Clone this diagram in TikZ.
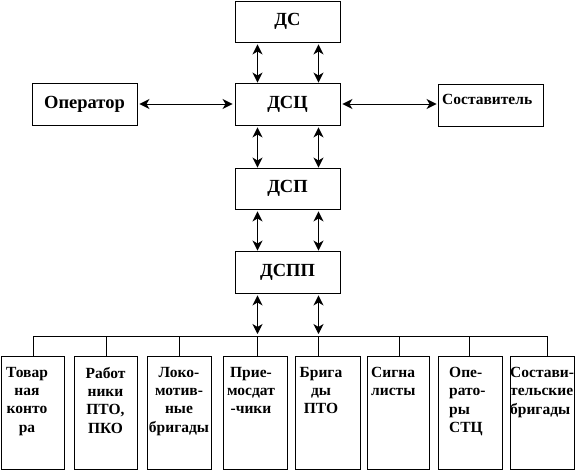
\documentclass[tikz,border=0pt]{standalone}
\usepackage{fontspec}
\setmainfont{Liberation Serif}[BoldFont={Liberation Serif Bold}]
\usetikzlibrary{arrows.meta}
\begin{document}
\begin{tikzpicture}[x=1pt,y=-1pt,
  box/.style={draw, line width=0.9pt, inner sep=0pt, minimum width=105pt, minimum height=42pt, font=\fontsize{18.5}{20}\selectfont\bfseries},
  sbox/.style={draw, line width=0.9pt, inner sep=0pt, minimum height=113pt, anchor=north west},
  stext/.style={inner sep=0pt, font=\fontsize{15.5}{18.3}\selectfont\bfseries},
  arr/.style={{Stealth[length=10pt,width=10pt,inset=3pt]}-{Stealth[length=10pt,width=10pt,inset=3pt]}, line width=1pt},
  thin/.style={line width=0.9pt}]
\useasboundingbox (0,0) rectangle (582,472);
% main column
\node[box, minimum height=41pt] (ds) at (287.5,21.5) {ДС};
\node[box] (dsc) at (287.5,104) {ДСЦ};
\node[box] (op) at (84.5,104.5) {Оператор};
\node[box] (sost) at (490.5,105) {};
\node[stext, anchor=west] (sostt) at (442,99) {Составитель};
\node[box, minimum height=41pt] (dsp) at (287.5,188.5) {ДСП};
\node[box] (dspp) at (287.5,272) {ДСПП};
% arrows
\draw[arr, shorten <=2pt] ([xshift=-30pt]ds.south) -- ([xshift=-30pt]dsc.north);
\draw[arr, shorten <=2pt] ([xshift=31pt]ds.south) -- ([xshift=31pt]dsc.north);
\draw[arr, shorten <=2pt] ([xshift=-30pt]dsc.south) -- ([xshift=-30pt]dsp.north);
\draw[arr, shorten <=2pt] ([xshift=31pt]dsc.south) -- ([xshift=31pt]dsp.north);
\draw[arr, shorten <=2pt] ([xshift=-30pt]dsp.south) -- ([xshift=-30pt]dspp.north);
\draw[arr, shorten <=2pt] ([xshift=31pt]dsp.south) -- ([xshift=31pt]dspp.north);
\draw[arr, shorten <=2pt, shorten >=2pt] (dsc.west -| op.east) -- (dsc.west);
\draw[arr, shorten <=2pt, shorten >=1pt] (dsc.east) -- (dsc.east -| sost.west);
% bottom boxes
\node[sbox, minimum width=63.5pt] (b1) at (0.5,356) {};
\node[sbox, minimum width=63pt] (b2) at (74,356) {};
\node[sbox, minimum width=64pt] (b3) at (147,356) {};
\node[sbox, minimum width=64pt] (b4) at (223,356) {};
\node[sbox, minimum width=65pt] (b5) at (295,356) {};
\node[sbox, minimum width=62pt] (b6) at (367,356) {};
\node[sbox, minimum width=64pt] (b7) at (438,356) {};
\node[sbox, minimum width=64pt] (b8) at (510,356) {};
\node[stext, anchor=north, align=center] (t1) at (27,367) {Товар\\ная\\конто\\ра};
\node[stext, anchor=north, align=center] (t2) at (105.5,367) {Работ\\ники\\ПТО,\\ПКО};
\node[stext, anchor=north, align=center] (t3) at (179,367) {Локо-\\мотив-\\ные\\бригады};
\node[stext, anchor=north, align=center] (t4) at (251,367) {Прие-\\мосдат\\-чики};
\node[stext, anchor=north, align=center] (t5) at (321,367) {Брига\\ды\\ПТО};
\node[stext, anchor=north west, align=left] (t6) at (371,367) {Сигна\\листы};
\node[stext, anchor=north west, align=left] (t7) at (449,367) {Опе-\\рато-\\ры\\СТЦ};
\node[stext, anchor=north west, align=left] (t8) at (510,367) {Состави-\\тельские\\бригады};
% bus
\coordinate (d1) at (33,336);
\coordinate (d2) at (106,336);
\coordinate (d3) at (179,336);
\coordinate (d4) at (257.5,336);
\coordinate (d5) at (318.5,336);
\coordinate (d6) at (399,336);
\coordinate (d7) at (469,336);
\coordinate (d8) at (547,336);
\draw[thin] (d1) -- (d8);
\foreach \i in {1,...,8} { \draw[thin] (d\i) -- (d\i |- b\i.north); }
\draw[arr, shorten <=2pt, shorten >=2pt] (dspp.south -| d4) -- (d4);
\draw[arr, shorten <=2pt, shorten >=2pt] (dspp.south -| d5) -- (d5);
\end{tikzpicture}
\end{document}
